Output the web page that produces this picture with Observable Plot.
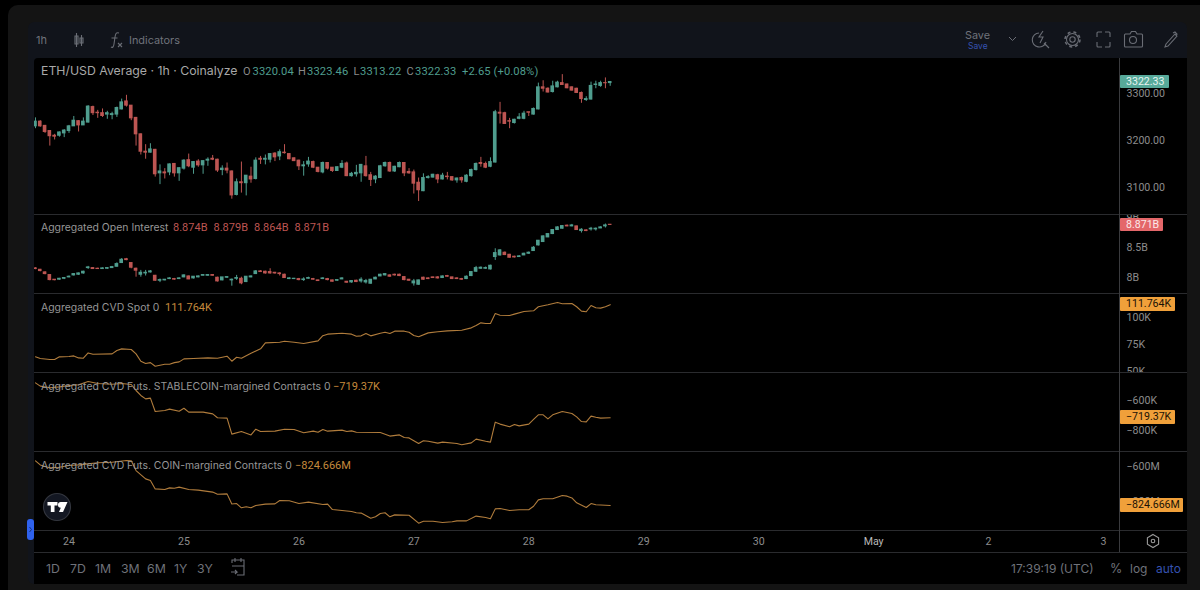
<!DOCTYPE html>
<html><head><meta charset="utf-8">
<script src="https://cdn.jsdelivr.net/npm/d3@7"></script>
<script src="https://cdn.jsdelivr.net/npm/@observablehq/plot@0.6"></script>
<style>
html,body{margin:0;padding:0;background:#000;width:1200px;height:590px;overflow:hidden;font-family:Inter,"Noto Sans",sans-serif}
.abs{position:absolute}
.t{position:absolute;white-space:pre;line-height:14px;transform:translateY(-7px);color:#9a9a9a;font-size:11.5px}
.badge{position:absolute;left:1119.5px;height:13.5px;line-height:13.5px;font-size:10.6px;font-family:Roboto,sans-serif;padding-left:6.5px;box-sizing:border-box;border-radius:1px;z-index:5;white-space:pre}
svg.plot,.panel svg{display:block}
.panel{position:absolute;left:0;z-index:2}
</style></head><body>
<div id="root" class="abs" style="left:0;top:0;width:1200px;height:590px"></div>
<script>
// ---------- candles: hourly, Apr 23 17:00 UTC → Apr 28 17:00 UTC
const startTime = Date.UTC(2024, 3, 23, 17);
const priceOpen = [3228,3238,3229,3218,3208,3208,3213,3218,3228,3239,3230,3236,3269,3257,3256,3253,3252,3253,3264,3281,3272,3246,3211,3174,3172,3178,3128,3130,3130,3148,3128,3138,3156,3140,3153,3145,3155,3159,3157,3135,3138,3132,3082,3109,3107,3121,3116,3159,3157,3157,3170,3164,3172,3169,3160,3155,3143,3147,3152,3140,3130,3150,3140,3133,3140,3149,3122,3126,3128,3143,3124,3115,3118,3143,3150,3132,3141,3150,3131,3130,3108,3090,3118,3119,3124,3115,3121,3120,3113,3118,3110,3122,3135,3150,3148,3142,3151,3257,3256,3239,3235,3244,3244,3258,3253,3264,3311,3308,3301,3311,3320,3317,3311,3308,3299,3284,3285,3316,3314,3320,3320.04];
const priceHigh = [3246,3240,3230,3219,3211,3216,3221,3230,3249,3240,3246,3272,3271,3262,3265,3260,3258,3269,3286,3294,3272,3247,3212,3189,3191,3179,3146,3138,3148,3149,3140,3157,3169,3153,3157,3155,3161,3166,3158,3144,3150,3133,3116,3152,3123,3141,3161,3164,3167,3170,3172,3178,3189,3170,3161,3156,3153,3162,3154,3140,3152,3151,3140,3142,3155,3152,3130,3145,3147,3164,3130,3123,3145,3152,3152,3143,3152,3151,3138,3135,3118,3127,3123,3126,3126,3128,3130,3121,3118,3120,3125,3137,3150,3162,3152,3161,3262,3279,3258,3245,3243,3255,3260,3258,3267,3320,3325,3310,3324,3324,3338,3318,3312,3309,3301,3291,3322,3324,3324,3331,3323.46];
const priceLow = [3223,3226,3213,3186,3199,3205,3204,3213,3228,3216,3230,3235,3251,3245,3247,3243,3242,3247,3263,3269,3240,3186,3167,3158,3171,3120,3104,3116,3123,3120,3111,3135,3140,3126,3141,3126,3143,3155,3130,3123,3127,3073,3080,3086,3080,3107,3114,3147,3146,3150,3153,3155,3169,3157,3153,3134,3122,3141,3138,3129,3127,3135,3130,3132,3138,3121,3120,3120,3109,3120,3100,3106,3118,3141,3130,3130,3140,3121,3126,3084,3068,3089,3116,3118,3106,3114,3114,3111,3107,3107,3108,3120,3133,3141,3138,3140,3150,3233,3232,3223,3233,3242,3242,3249,3252,3263,3301,3299,3299,3310,3315,3308,3303,3298,3277,3281,3284,3308,3311,3308,3313.22];
const priceClose = [3238,3228,3216,3207,3206,3215,3219,3228,3240,3230,3238,3270,3256,3256,3250,3256,3254,3267,3279,3272,3245,3211,3174,3172,3179,3126,3132,3128,3147,3128,3139,3155,3143,3152,3145,3154,3157,3157,3134,3138,3134,3081,3109,3107,3123,3115,3155,3157,3159,3169,3162,3173,3171,3158,3154,3143,3145,3153,3140,3131,3150,3138,3133,3141,3148,3122,3127,3129,3146,3122,3114,3121,3143,3150,3132,3142,3150,3128,3128,3106,3092,3118,3120,3125,3115,3123,3120,3113,3117,3113,3123,3135,3148,3148,3140,3152,3258,3255,3233,3238,3242,3247,3255,3257,3265,3311,3308,3300,3313,3321,3316,3309,3304,3299,3286,3286,3314,3317,3320,3319.68,3322.33];
const priceTicks = [3100,3200,3300];

const oiOpen = [8.147,8.124,8.08,8.036,7.958,7.958,7.974,7.997,8.03,8.041,8.063,8.152,8.152,8.141,8.136,8.141,8.152,8.174,8.236,8.30,8.236,8.141,8.041,8.063,8.08,8.024,7.941,7.947,7.969,7.969,7.969,7.997,8.013,7.98,7.997,8.024,8.024,8.036,7.991,7.947,7.991,7.947,7.974,7.974,7.919,7.997,8.052,8.097,8.091,8.086,8.074,8.063,8.041,7.969,7.969,7.969,7.952,7.974,7.969,7.947,7.969,7.969,7.947,7.941,7.963,7.924,7.913,7.941,7.93,7.913,7.891,7.963,8.013,8.03,8.03,8.041,8.041,8.002,7.958,7.897,7.874,7.991,7.98,7.997,7.997,7.986,8.019,7.997,7.98,7.969,7.969,8.019,8.091,8.141,8.141,8.13,8.336,8.363,8.408,8.374,8.341,8.336,8.363,8.391,8.436,8.53,8.586,8.663,8.719,8.786,8.808,8.858,8.847,8.847,8.769,8.78,8.797,8.797,8.813,8.847,8.874];
const oiHigh = [8.158,8.13,8.09,8.04,7.96,7.98,7.99,8.02,8.06,8.07,8.10,8.18,8.16,8.15,8.155,8.16,8.18,8.24,8.31,8.313,8.24,8.152,8.113,8.113,8.11,8.03,7.97,7.96,7.99,7.98,7.99,8.04,8.02,8.01,8.02,8.04,8.04,8.04,8.00,7.97,8.01,7.97,8.03,8.00,8.01,8.02,8.11,8.11,8.10,8.141,8.08,8.074,8.05,7.99,7.98,7.98,7.99,8.00,7.98,7.95,7.99,7.98,7.95,7.96,7.99,7.93,7.94,7.95,7.991,7.963,7.96,8.0,8.05,8.06,8.04,8.05,8.05,8.01,7.96,7.963,7.95,8.0,7.99,8.0,8.01,8.02,8.03,8.0,7.99,7.98,8.02,8.09,8.18,8.17,8.17,8.2,8.474,8.46,8.42,8.38,8.35,8.36,8.4,8.42,8.51,8.61,8.69,8.72,8.79,8.84,8.86,8.87,8.88,8.85,8.808,8.79,8.83,8.82,8.84,8.886,8.879];
const oiLow = [8.125,8.09,8.04,7.94,7.94,7.95,7.96,7.99,8.02,8.03,8.05,8.13,8.13,8.13,8.13,8.13,8.145,8.17,8.23,8.275,8.14,8.00,8.00,8.02,8.07,7.93,7.91,7.94,7.96,7.95,7.96,7.99,7.96,7.97,7.99,8.02,8.02,8.02,7.92,7.94,7.98,7.85,7.947,7.874,7.91,7.99,8.05,8.08,8.05,8.05,8.05,8.02,7.98,7.96,7.96,7.94,7.93,7.97,7.95,7.93,7.96,7.94,7.92,7.93,7.96,7.90,7.90,7.91,7.902,7.886,7.885,7.96,8.01,8.02,8.0,8.02,8.01,7.94,7.93,7.852,7.865,7.95,7.96,7.98,7.97,7.98,8.0,7.96,7.96,7.95,7.96,8.01,8.08,8.13,8.13,8.12,8.28,8.35,8.36,8.32,8.32,8.33,8.36,8.38,8.43,8.52,8.58,8.66,8.71,8.78,8.8,8.84,8.84,8.78,8.736,8.76,8.769,8.769,8.81,8.82,8.864];
const oiClose = [8.136,8.102,8.052,7.952,7.95,7.974,7.986,8.008,8.052,8.063,8.091,8.163,8.136,8.136,8.147,8.152,8.169,8.219,8.291,8.285,8.158,8.108,8.074,8.074,8.097,7.941,7.952,7.958,7.98,7.96,7.98,8.03,7.963,8.008,8.013,8.036,8.036,8.024,7.93,7.997,8.002,7.958,7.986,7.897,8.008,8.013,8.097,8.086,8.063,8.063,8.063,8.052,7.986,7.98,7.974,7.952,7.963,7.986,7.958,7.936,7.98,7.952,7.924,7.952,7.98,7.908,7.936,7.919,7.958,7.936,7.958,7.991,8.041,8.052,8.008,8.03,8.019,7.952,7.941,7.93,7.947,7.958,7.969,7.986,7.98,8.013,8.008,7.969,7.969,7.958,8.008,8.086,8.152,8.158,8.152,8.191,8.402,8.447,8.369,8.324,8.33,8.347,8.391,8.408,8.491,8.608,8.68,8.719,8.786,8.83,8.852,8.847,8.863,8.786,8.791,8.769,8.808,8.808,8.83,8.863,8.871];
const oiTicks = [8,8.5,9];

// ---------- CVD lines: hour index since startTime, value at that hour
const spotHour = [0,1,3,4,5,7,8,9,10,11,12,16,17,18,20,21,22,23,24,25,27,28,29,30,31,33,36,38,40,41,42,43,45,47,48,51,52,54,56,59,60,61,64,66,67,68,69,70,72,73,74,75,77,78,79,80,82,84,86,89,91,92,93,94,95,96,97,99,100,102,104,105,107,109,110,112,113,114,115,116,117,118,119,120];
const spotValue = [62.8,61.2,60.3,60.3,62.8,63.1,63.7,61.8,61.5,66.5,65.3,65.6,68.7,70.3,69.7,65.6,58.7,56.5,57.4,54,55.9,55.9,57.4,58.1,60.9,61.2,61.8,61.5,63.4,58.7,62.4,61.5,66.2,70.3,75.9,76.5,77.5,76.5,75.3,77.8,82.6,84.1,85,84.1,82.2,82.5,84.7,82.5,85,85.9,84.7,86.9,86.9,85.9,82.8,81.6,85.3,86.3,87.2,87.8,90,92.2,94.7,94.1,94.1,103.5,101.9,101.6,102.9,105.4,106,109.8,111.6,113.8,112.6,112.9,109.8,105.7,105.1,111,108.8,108.5,109.8,111.764];
const spotTicks = [50,75,100];

const stableHour = [0,1,3,5,7,9,11,13,16,18,20,21,22,23,24,25,27,28,30,31,32,35,37,38,40,41,43,45,46,47,50,52,54,56,58,59,60,61,64,65,66,67,72,74,76,77,78,80,81,82,84,85,88,89,91,92,94,95,96,97,99,100,101,103,104,105,106,107,108,110,112,113,114,115,116,117,118,120];
const stableValue = [-487,-509,-520,-514,-505,-500,-478,-491,-496,-491,-498,-538,-571,-594,-589,-678,-671,-662,-676,-656,-682,-682,-694,-720,-722,-829,-811,-834,-796,-811,-809,-796,-798,-820,-809,-816,-798,-809,-802,-811,-807,-816,-818,-842,-834,-851,-854,-891,-873,-876,-889,-882,-891,-900,-887,-862,-876,-882,-749,-762,-780,-765,-774,-762,-731,-700,-700,-727,-700,-678,-691,-714,-745,-747,-709,-716,-722,-719.37];
const stableTicks = [-600,-800];

const coinHour = [0,1,3,5,7,9,11,13,16,19,20,21,23,24,25,27,28,29,30,32,34,37,38,40,41,42,43,44,45,46,48,50,51,53,55,57,60,61,62,66,67,68,70,71,72,73,74,75,78,80,81,83,85,87,88,90,92,94,95,96,97,99,101,103,104,105,106,108,110,111,112,113,115,116,117,120];
const coinValue = [-572,-595,-612,-608,-598,-595,-589,-583,-580,-570,-572,-627,-674,-683,-731,-734,-725,-727,-721,-734,-738,-749,-761,-759,-816,-814,-838,-832,-838,-825,-817,-816,-797,-798,-814,-806,-819,-817,-848,-859,-866,-868,-897,-889,-870,-866,-889,-878,-880,-925,-914,-914,-921,-917,-912,-912,-885,-893,-900,-844,-842,-853,-849,-849,-829,-793,-787,-787,-768,-772,-782,-810,-836,-814,-821,-824.666];
const coinTicks = [-600,-800];

const dayLabels = ["24","25","26","27","28","29","30","May","2","3"];

// ---------- layout & colours
const UP="#4f9d8e", DOWN="#bd5552", LINE="#b07c3c", AXIS="#8c8c8c";
const hour=3600e3;
const toDate=h=>new Date(startTime+h*hour);
const xOpts={type:"utc",domain:[new Date(Date.UTC(2024,3,24)),new Date(Date.UTC(2024,4,3))],range:[68.5,1103],axis:null};
const root=document.getElementById("root");

function el(css,html,cls){const d=document.createElement("div");d.style.cssText=css;if(cls)d.className=cls;if(html!=null)d.innerHTML=html;root.appendChild(d);return d;}
function text(x,y,s,color,size,extra){return el(`left:${x}px;top:${y}px;color:${color||"#9a9a9a"};${size?`font-size:${size}px;`:""}${extra||""}`,s,"t");}
const minus=s=>String(s).replace("-","−");

// chrome backgrounds
el("position:absolute;left:8px;top:5px;width:1192px;height:585px;background:#141414;border-radius:10px 0 0 0");
el("position:absolute;left:28px;top:22px;width:1159px;height:562px;background:#11141b;border-radius:6px");
el("position:absolute;left:34px;top:58px;width:1153px;height:526px;background:#000;border-radius:4px 0 0 0");

function candleRows(o,h,l,c){return o.map((v,i)=>({t:toDate(i),open:v,high:h[i],low:l[i],close:c[i],up:c[i]>=v}));}
function candleMarks(rows){
  const half=0.38*hour, marks=[];
  for(const [flag,col] of [[true,UP],[false,DOWN]]){
    const r=rows.filter(d=>d.up===flag);
    marks.push(Plot.ruleX(r,{x:"t",y1:"low",y2:"high",stroke:col,strokeWidth:1,clip:true}));
    marks.push(Plot.rect(r,{x1:d=>new Date(+d.t-half),x2:d=>new Date(+d.t+half),y1:"open",y2:"close",fill:col,insetTop:-0.5,insetBottom:-0.5,clip:true}));
  }
  return marks;
}
function lineMarks(hours,values){
  const rows=hours.map((h,i)=>({t:toDate(h),v:values[i]}));
  return [Plot.line(rows,{x:"t",y:"v",stroke:LINE,strokeWidth:1.1,curve:"linear",clip:true})];
}
function panel(top,h,domain,range,ticks,fmt,marks){
  const p=Plot.plot({width:1200,height:h,marginLeft:34,marginRight:80.5,marginTop:0,marginBottom:0,
    style:{background:"transparent",fontFamily:"Roboto,sans-serif",fontSize:"10.6px",overflow:"hidden"},
    x:xOpts,y:{domain,range:range.map(v=>v-top),axis:null},
    marks:[...marks,Plot.axisY({anchor:"right",ticks,tickFormat:fmt,tickSize:0,tickPadding:6.5,fill:AXIS,label:null,stroke:"none",dy:0.7})]});
  const w=el(`top:${top}px;width:1200px;height:${h}px`,null,"panel");
  w.appendChild(p);
  return p;
}
function badge(p,top,value,label,bg,fg,w){
  const y=top+p.scale("y").apply(value);
  el(`top:${y-6.75}px;width:${w}px;background:${bg};color:${fg}`,label,"badge");
}

// panels
const p1=panel(58,156.5,[3100,3300],[186,92],priceTicks,d=>d3.format(".2f")(d),candleMarks(candleRows(priceOpen,priceHigh,priceLow,priceClose)));
const p2=panel(215,78.5,[8,8.5],[276.7,246.7],oiTicks,d=>d+"B",candleMarks(candleRows(oiOpen,oiHigh,oiLow,oiClose)));
const p3=panel(294,78.5,[50,100],[370,316.7],spotTicks,d=>d+"K",lineMarks(spotHour,spotValue));
const p4=panel(373,78.5,[-800,-600],[429.3,399.3],stableTicks,d=>minus(d)+"K",lineMarks(stableHour,stableValue));
const p5=panel(452,78.5,[-800,-600],[500.6,465.3],coinTicks,d=>minus(d)+"M",lineMarks(coinHour,coinValue));

badge(p1,58,priceClose[priceClose.length-1],"3322.33","#57a99a","#e8f4f1",49.5);
badge(p2,215,oiClose[oiClose.length-1],"8.871B","#e4676a","#fbe9e9",43.5);
badge(p3,294,spotValue[spotValue.length-1],"111.764K","#f0a03a","#1a1206",55.5);
badge(p4,373,stableValue[stableValue.length-1],"−719.37K","#f0a03a","#1a1206",55.5);
badge(p5,452,coinValue[coinValue.length-1],"−824.666M","#f0a03a","#1a1206",63.5);

// time axis
const dayDates=dayLabels.map((_,i)=>new Date(Date.UTC(2024,3,24+i)));
const axisPlot=Plot.plot({width:1200,height:21,marginLeft:34,marginRight:80.5,marginTop:0,marginBottom:0,
  style:{background:"transparent",fontFamily:"Roboto,sans-serif",fontSize:"10.6px"},
  x:xOpts,y:{axis:null,domain:[0,1]},
  marks:[Plot.text(dayDates,{x:d=>d,frameAnchor:"middle",text:(d,i)=>dayLabels[i],fill:d=>d.getUTCMonth()===4&&d.getUTCDate()===1?"#b8b8b8":"#8c8c8c",fontWeight:d=>d.getUTCMonth()===4&&d.getUTCDate()===1?600:400})]});
el("top:531px;width:1200px;height:21px",null,"panel").appendChild(axisPlot);

// separators
for(const y of [214,293,372,451,530,552]) el(`position:absolute;left:34px;top:${y}px;width:1153px;height:1px;background:#2a2b2e;z-index:3`);
el("position:absolute;left:1119px;top:58px;width:1px;height:494px;background:#3a3b3e;z-index:3");

// legends
const lg="z-index:6;";
const num=lg+"font-family:Roboto,sans-serif;";
text(41,71,"ETH/USD Average · 1h · Coinalyze","#a8a8a8",12.3,lg);
text(243,71.5,"O","#8a8a8a",11,num);
[[252.5,"3320.04"],[307,"3323.46"],[360,"3313.22"],[415,"3322.33"],[462,"+2.65 (+0.08%)"]].forEach(([x,s])=>text(x,71.5,s,UP,11.2,num+"letter-spacing:.1px"));
[[298,"H"],[353.5,"L"],[406.5,"C"]].forEach(([x,s])=>text(x,71.5,s,"#8a8a8a",11,num));
text(41,228,"Aggregated Open Interest","#969696",10.45,lg);
[[173,"8.874B"],[213.5,"8.879B"],[254,"8.864B"],[294.5,"8.871B"]].forEach(([x,s])=>text(x,228,s,DOWN,11,num));
text(41,307.5,"Aggregated CVD Spot 0","#969696",10.45,lg);
text(165,307.5,"111.764K","#c58a3c",11,num);
text(41,386.5,"Aggregated CVD Futs. STABLECOIN-margined Contracts 0","#969696",10.45,lg);
text(333,386.5,"−719.37K","#c58a3c",11,num);
text(41,465.5,"Aggregated CVD Futs. COIN-margined Contracts 0","#969696",10.45,lg);
text(295,465.5,"−824.666M","#c58a3c",11,num);

// toolbars
const dim="#6f727a";
text(36,40,"1h",dim,11);
text(129,40,"Indicators",dim,10.9);
text(965,36,"Save",dim,10.8);
text(968,46,"Save","#3552b0",8.5);
[[46,"1D"],[70,"7D"],[95,"1M"],[121,"3M"],[147,"6M"],[174,"1Y"],[197,"3Y"]].forEach(([x,s])=>text(x,568.5,s,dim,12.3));
text(1011,568.5,"17:39:19 (UTC)",dim,12);
text(1110,568.5,"%",dim,12.5);
text(1130,568.5,"log",dim,12);
text(1156,568.5,"auto","#3552b0",12);

// icons
const ic=`<svg xmlns="http://www.w3.org/2000/svg" width="1200" height="590" style="position:absolute;left:0;top:0;z-index:7;pointer-events:none" fill="none" stroke="#6a6d75" stroke-width="1.1">
<path d="M76.500 33v14M75 36h3v8h-3zM81.500 35v11M80 38h3v5h-3z"/>
<path d="M119 33c-3-1-3.500 1-4 4l-1 7c-.4 3-1.500 4-3 3M111.500 38h6M118 43l4 4M122 43l-4 4"/>
<path d="M1009 37l3.500 3.500 3.500-3.500" stroke-width="1"/>
<path d="M1039 33a7 7 0 1 0 7 9M1044 43l5 5M1043 31l-4 6h4l-3 6"/>
<circle cx="1072.500" cy="39.500" r="2.700"/><circle cx="1072.500" cy="39.500" r="6"/><circle cx="1072.500" cy="39.500" r="7.500" stroke-dasharray="3 3" stroke-width="1.500"/>
<path d="M1097 37v-4a1 1 0 0 1 1-1h4M1105 32h4a1 1 0 0 1 1 1v4M1110 42v4a1 1 0 0 1-1 1h-4M1102 47h-4a1 1 0 0 1-1-1v-4"/>
<path d="M1125 34h5l1.500-2.500h4l1.500 2.500h4.500a1 1 0 0 1 1 1v11a1 1 0 0 1-1 1h-16a1 1 0 0 1-1-1v-11a1 1 0 0 1 1-1z"/><circle cx="1133" cy="40" r="3.500"/>
<path d="M1166 44l9-10 2 2-9 10-3 1zM1173 33l2-1 2 2-1 2"/>
<path d="M232 563v-3h12v15h-7M235 558v4M241 558v4M232 566h12M231 572h6l-2-2M237 572l-2 2" stroke-width="1.100"/>
<path d="M1153 534.500l5.600 3.200v6.600l-5.600 3.200-5.600-3.200v-6.600z" stroke="#9a9a9a"/><circle cx="1153" cy="541" r="1.800" stroke="#9a9a9a"/>
<circle cx="57" cy="507" r="13.500" fill="#131722" stroke="#33363e"/>
<path d="M47.500 502h10v3.500h-3v6.500h-3.700v-6.500h-3.300zM61 502h6.500l-4.500 10h-4l1.800-4.200a2.100 2.100 0 1 1 .2-5.800z" fill="#fff" stroke="none"/>
<rect x="27" y="519" width="7" height="21" rx="3" fill="#2f62ee" stroke="none"/>
<path d="M29.500 527l2 2.500-2 2.500" stroke="#16327c" stroke-width="1"/>
</svg>`;
const holder=document.createElement("div");holder.innerHTML=ic;root.appendChild(holder);
</script>
</body></html>
